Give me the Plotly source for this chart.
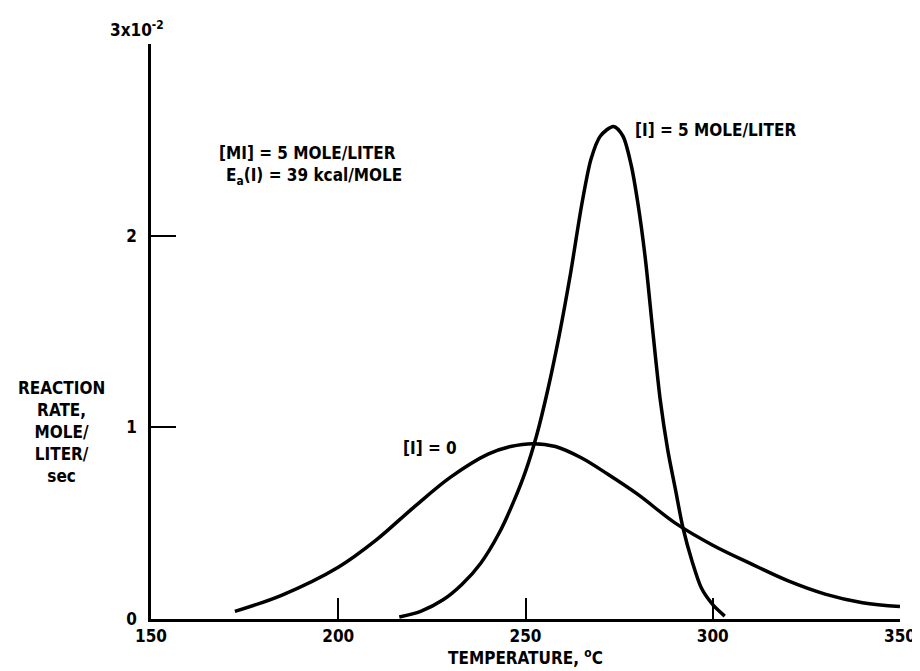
import plotly.graph_objects as go

# Temperature (deg C) and reaction rate (x10^-2 mole/liter/sec)
temp_i0 = [172.4, 185.0, 200.0, 210.0, 220.0, 230.0, 240.0, 246.0, 252.0, 258.0,
           265.0, 272.0, 280.0, 290.0, 300.0, 310.0, 320.0, 330.0, 340.0, 350.0]
rate_i0 = [0.04, 0.125, 0.27, 0.41, 0.58, 0.74, 0.86, 0.90, 0.915, 0.90,
           0.84, 0.755, 0.65, 0.50, 0.385, 0.29, 0.20, 0.13, 0.085, 0.065]

temp_i5 = [216.3, 222.0, 228.0, 233.0, 238.0, 243.0, 247.0, 250.0, 253.0, 256.0,
           259.0, 262.0, 265.0, 267.5, 270.0, 273.5, 276.0, 278.2, 280.0, 282.0,
           284.0, 286.0, 288.0, 290.0, 292.0, 294.5, 297.0, 300.0, 303.2]
rate_i5 = [0.01, 0.04, 0.10, 0.18, 0.29, 0.45, 0.62, 0.77, 0.96, 1.20,
           1.48, 1.80, 2.16, 2.40, 2.52, 2.57, 2.52, 2.37, 2.17, 1.88,
           1.50, 1.14, 0.88, 0.68, 0.48, 0.30, 0.16, 0.075, 0.015]

x_tickvals = [150, 200, 250, 300, 350]
x_ticktext = ["150", "200", "250", "300", "350"]
y_tickvals = [0, 1, 2, 3]
y_ticktext = ["0", "1", "2", ""]

FONT = "DejaVu Sans Condensed, Liberation Sans Narrow, Roboto Condensed, DejaVu Sans, sans-serif"


def f(size=17):
    return dict(family=FONT, size=size, color="black", weight="bold")


fig = go.Figure()
fig.add_trace(go.Scatter(x=temp_i0, y=rate_i0, mode="lines",
                         line=dict(color="black", width=3.5, shape="spline", smoothing=1.0),
                         name="[I] = 0", showlegend=False))
fig.add_trace(go.Scatter(x=temp_i5, y=rate_i5, mode="lines",
                         line=dict(color="black", width=3.5, shape="spline", smoothing=0.8),
                         name="[I] = 5 MOLE/LITER", showlegend=False))

fig.update_layout(
    width=920, height=671,
    margin=dict(l=143, r=17, t=36, b=60),
    paper_bgcolor="white", plot_bgcolor="white",
    font=f(),
    xaxis=dict(range=[150, 350], tickvals=x_tickvals, ticktext=x_ticktext,
               ticks="inside", ticklen=21, tickwidth=2, tickcolor="black",
               showline=True, linecolor="black", linewidth=2.5,
               showgrid=False, zeroline=False,
               tickfont=f(),
               title=dict(text="TEMPERATURE, <sup>o</sup>C", standoff=4, font=f())),
    yaxis=dict(range=[0, 3], tickvals=y_tickvals, ticktext=y_ticktext,
               ticks="inside", ticklen=25, tickwidth=2, tickcolor="black",
               showline=True, linecolor="black", linewidth=2.5,
               showgrid=False, zeroline=False, ticklabelstandoff=8,
               tickfont=f()),
)

fig.add_annotation(xref="paper", yref="paper", x=-0.058, y=1.026,
                   text="3x10<sup>-2</sup>", showarrow=False,
                   xanchor="left", yanchor="middle", font=f())
fig.add_annotation(xref="paper", yref="paper", x=-0.12, y=0.325,
                   text="REACTION<br>RATE,<br>MOLE/<br>LITER/<br>sec", showarrow=False,
                   xanchor="center", yanchor="middle", align="center", font=f())
fig.add_annotation(x=167.6, y=2.43, text="[MI] = 5 MOLE/LITER", showarrow=False,
                   xanchor="left", yanchor="middle", font=f())
fig.add_annotation(x=169.5, y=2.31, text="E<sub>a</sub>(I) = 39 kcal/MOLE", showarrow=False,
                   xanchor="left", yanchor="middle", font=f())
fig.add_annotation(x=278.7, y=2.55, text="[I] = 5 MOLE/LITER", showarrow=False,
                   xanchor="left", yanchor="middle", font=f())
fig.add_annotation(x=216.8, y=0.89, text="[I] = 0", showarrow=False,
                   xanchor="left", yanchor="middle", font=f())

fig.write_html("out.html")
